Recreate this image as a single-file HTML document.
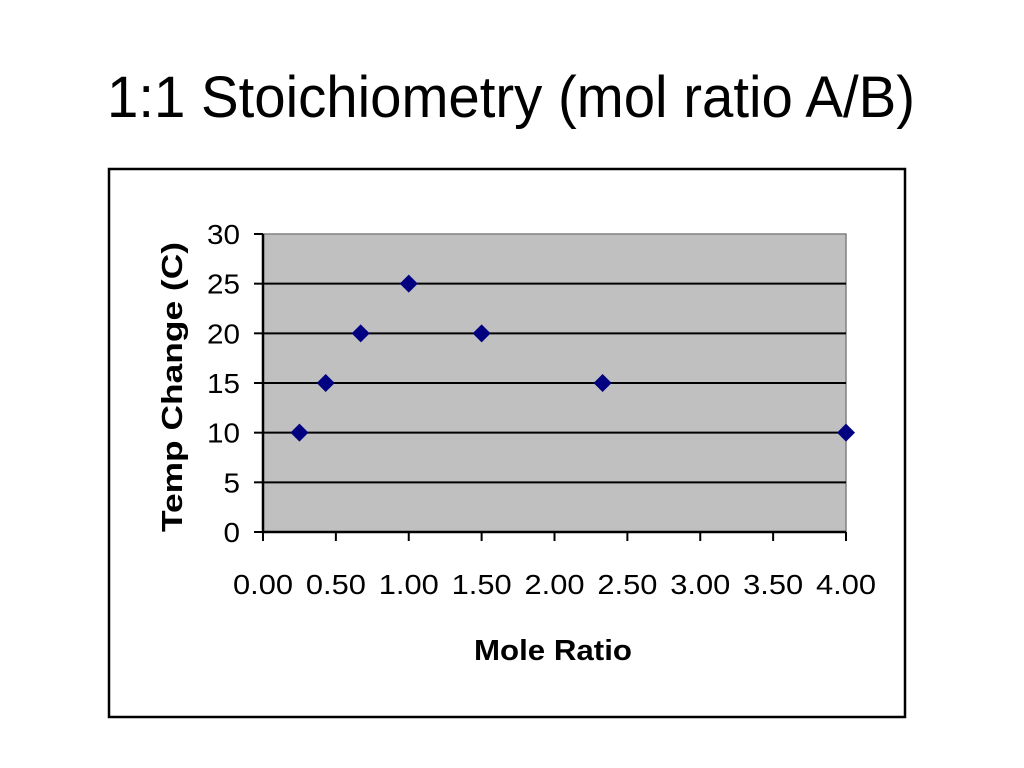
<!DOCTYPE html>
<html><head><style>
body{margin:0;background:#fff;}
svg{display:block;font-family:"Liberation Sans",Arial,sans-serif;}
</style></head><body>
<svg id="c" width="1024" height="768">
<text x="107" y="117" font-size="58" textLength="808" lengthAdjust="spacingAndGlyphs">1:1 Stoichiometry (mol ratio A/B)</text>
<rect x="109" y="169" width="796" height="548" fill="#fff" stroke="#000" stroke-width="2.5"/>
<rect x="263" y="234" width="583" height="298" fill="#c0c0c0" stroke="#808080" stroke-width="1.5"/>
<g id="grid"></g><g id="axes"></g><g id="pts"></g>
<text x="474" y="660" font-size="29" font-weight="bold" textLength="158" lengthAdjust="spacingAndGlyphs">Mole Ratio</text>
<text transform="translate(182,532) rotate(-90)" font-size="29" font-weight="bold" textLength="290" lengthAdjust="spacingAndGlyphs">Temp Change (C)</text>
</svg>
<script>
const xVals=[0.25,0.43,0.67,1.0,1.5,2.33,4.0];
const yVals=[10,15,20,25,20,15,10];
const xTicks=["0.00","0.50","1.00","1.50","2.00","2.50","3.00","3.50","4.00"];
const yTicks=["0","5","10","15","20","25","30"];
const NS="http://www.w3.org/2000/svg";
const X0=263,X1=846,Y0=532,Y1=234;
const sx=v=>X0+(v-0)/(4-0)*(X1-X0);
const sy=v=>Y0-(v-0)/(30-0)*(Y0-Y1);
function mk(t,a,p){const e=document.createElementNS(NS,t);for(const k in a)e.setAttribute(k,a[k]);p.appendChild(e);return e;}
const grid=document.getElementById('grid'),axes=document.getElementById('axes'),pts=document.getElementById('pts');
yTicks.forEach(t=>{const v=+t,y=sy(v);
 if(v>0&&v<30){const g=mk('line',{x1:X0,x2:X1,y1:y,y2:y,stroke:'#000','stroke-width':2},grid);
 
 }
 const tk=mk('line',{x1:254,x2:X0,y1:y,y2:y,stroke:'#000','stroke-width':2},axes);
 
 
 const w=t.length*16.5;
 const tx=mk('text',{x:240-w,y:y+10,'font-size':28,textLength:w,lengthAdjust:'spacingAndGlyphs'},axes);tx.textContent=t;
 
 
});
xTicks.forEach(t=>{const x=sx(+t);
 const tk=mk('line',{x1:x,x2:x,y1:Y0,y2:541,stroke:'#000','stroke-width':2},axes);
 
 
 const tx=mk('text',{x:x-30,y:594,'font-size':28,textLength:60,lengthAdjust:'spacingAndGlyphs'},axes);tx.textContent=t;
 
 
});
const ax=mk('path',{d:`M${X0},${Y1}V${Y0}H${X1}`,stroke:'#000','stroke-width':2.5,fill:'none'},axes);


xVals.forEach((v,i)=>{const x=sx(v),y=sy(yVals[i]);
 const p=mk('path',{d:`M${x},${y-9}L${x+9},${y}L${x},${y+9}L${x-9},${y}Z`,fill:'#000080'},pts);
 
 
});
</script>
</body></html>
